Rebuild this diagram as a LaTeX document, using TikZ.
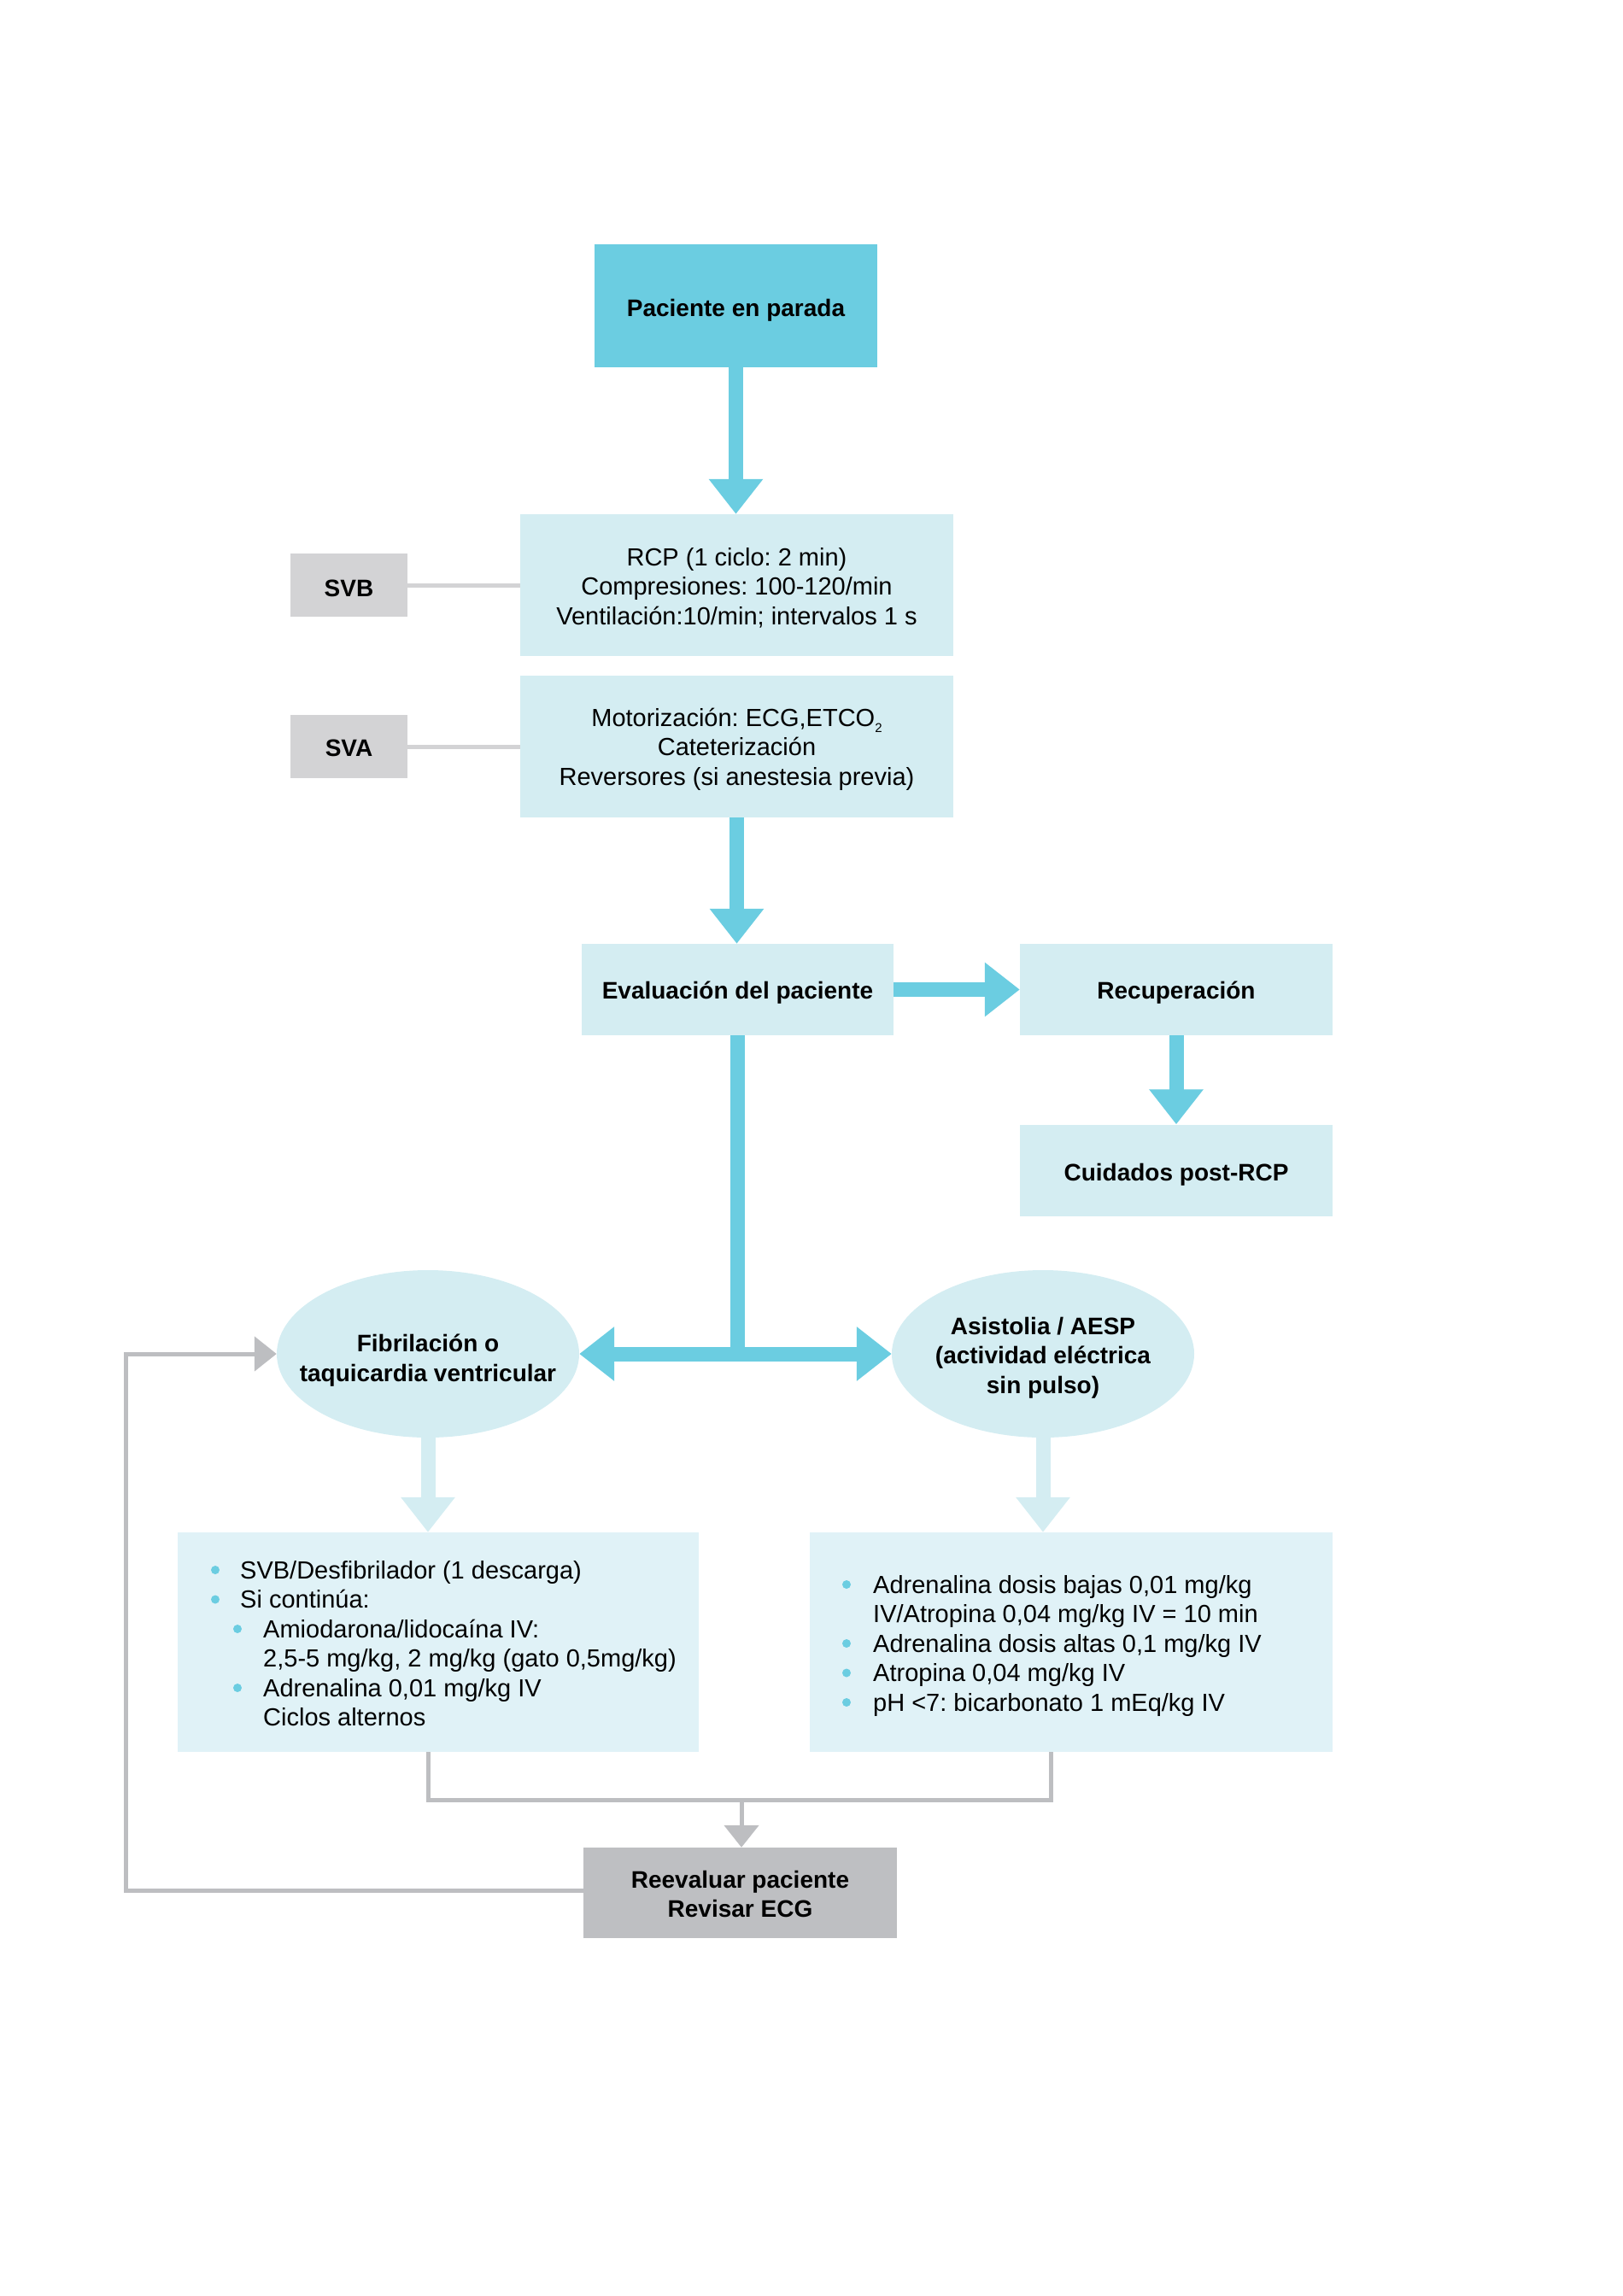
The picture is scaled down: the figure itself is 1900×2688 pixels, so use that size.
\documentclass[tikz,border=0pt]{standalone}
\usepackage{fontspec}
\setmainfont{Liberation Sans}
\usetikzlibrary{arrows.meta,shapes.geometric}
\definecolor{cy}{HTML}{6BCDE1}
\definecolor{lt}{HTML}{D4EDF2}
\definecolor{ltb}{HTML}{E0F2F7}
\definecolor{gbox}{HTML}{D3D3D5}
\definecolor{gdark}{HTML}{BEBFC2}
\definecolor{gline}{HTML}{BDBEC1}
\newcommand\mytab[1]{\begin{tabular}[t]{@{}c@{}}#1\end{tabular}}
\newcommand\mysub[1]{\raisebox{-7pt}{\fontsize{15}{15}\selectfont #1}}
\begin{document}
\frenchspacing
\begin{tikzpicture}[x=1pt,y=-1pt,
  every node/.style={font=\fontsize{29}{34.5}\selectfont, inner sep=0pt},
  bx/.style={rectangle},
  ttl/.style={font=\fontsize{28}{34.5}\selectfont\bfseries},
  ell/.style={ellipse, inner xsep=-60pt, inner ysep=0pt, minimum width=354pt, minimum height=196pt, fill=lt, ttl},
  bigarr/.style={draw=cy, line width=17pt, -{Triangle[length=41pt,width=61pt]}},
  ltarr/.style={draw=lt, line width=17pt, -{Triangle[length=41pt,width=61pt]}},
  gconn/.style={draw=gline, line width=5pt, line join=miter},
  garr/.style={gconn, -{Triangle[length=26pt,width=40pt]}},
  sconn/.style={draw=gbox, line width=5pt},
  ln/.style={anchor=base west},
  bul/.style={fill=cy}
]
\useasboundingbox (0,0) rectangle (1900,2688);

% boxes
\node[bx, ttl, fill=cy, minimum width=331pt, minimum height=144pt, text height=24pt, text depth=0pt] (top) at (861.5,358) {Paciente en parada};
\node[bx, fill=lt, minimum width=507pt, minimum height=166pt, text height=0pt, text depth=46pt] (rcp) at (862.5,685) {\mytab{RCP (1 ciclo: 2 min)\\Compresiones: 100-120/min\\Ventilación:10/min; intervalos 1 s}};
\node[bx, ttl, fill=gbox, minimum width=137pt, minimum height=74pt, text height=26pt, text depth=0pt] (svb) at (408.5,685) {SVB};
\node[bx, fill=lt, minimum width=507pt, minimum height=166pt, text height=0pt, text depth=48pt] (mot) at (862.5,874) {\mytab{Motorización: ECG,ETCO\mysub{2}\\Cateterización\\Reversores (si anestesia previa)}};
\node[bx, ttl, fill=gbox, minimum width=137pt, minimum height=74pt, text height=22pt, text depth=0pt] (sva) at (408.5,874) {SVA};
\node[bx, ttl, fill=lt, minimum width=365pt, minimum height=107pt, text height=21pt, text depth=0pt] (eval) at (863.5,1158.5) {Evaluación del paciente};
\node[bx, ttl, fill=lt, minimum width=366pt, minimum height=107pt, text height=21pt, text depth=0pt] (recup) at (1377,1158.5) {Recuperación};
\node[bx, ttl, fill=lt, minimum width=366pt, minimum height=107pt, text height=24pt, text depth=0pt] (cuid) at (1377,1370) {Cuidados post-RCP};
\node[ell, text height=0pt, text depth=5pt] (fib) at (501,1585) {\mytab{Fibrilación o\\taquicardia ventricular}};
\node[ell, text height=0pt, text depth=46pt] (asis) at (1221,1585) {\mytab{Asistolia / AESP\\(actividad eléctrica\\sin pulso)}};
\node[bx, fill=ltb, minimum width=610pt, minimum height=257pt] (lbox) at (513,1922.5) {};
\node[bx, fill=ltb, minimum width=612pt, minimum height=257pt] (rbox) at (1254,1922.5) {};
\node[bx, ttl, fill=gdark, minimum width=367pt, minimum height=106pt, text height=0pt, text depth=12pt] (reev) at (866.5,2216) {\mytab{Reevaluar paciente\\Revisar ECG}};

% left list
\fill[bul] (252,1838) circle (5pt);
\fill[bul] (252,1872.5) circle (5pt);
\fill[bul] (278,1907) circle (5pt);
\fill[bul] (278,1976) circle (5pt);
\node[ln] (l1) at (281,1848) {SVB/Desfibrilador (1 descarga)};
\node[ln] (l2) at (281,1882.5) {Si continúa:};
\node[ln] (l3) at (308,1917) {Amiodarona/lidocaína IV:};
\node[ln] (l4) at (308,1951.5) {2,5-5 mg/kg, 2 mg/kg (gato 0,5mg/kg)};
\node[ln] (l5) at (308,1986) {Adrenalina 0,01 mg/kg IV};
\node[ln] (l6) at (308,2020.5) {Ciclos alternos};

% right list
\fill[bul] (991,1855) circle (5pt);
\fill[bul] (991,1924) circle (5pt);
\fill[bul] (991,1958.5) circle (5pt);
\fill[bul] (991,1993) circle (5pt);
\node[ln] (r1) at (1022,1865) {Adrenalina dosis bajas 0,01 mg/kg};
\node[ln] (r2) at (1022,1899.5) {IV/Atropina 0,04 mg/kg IV = 10 min};
\node[ln] (r3) at (1022,1934) {Adrenalina dosis altas 0,1 mg/kg IV};
\node[ln] (r4) at (1022,1968.5) {Atropina 0,04 mg/kg IV};
\node[ln] (r5) at (1022,2003) {pH <7: bicarbonato 1 mEq/kg IV};

% connectors
\draw[sconn] (svb) -- (rcp);
\draw[sconn] (sva) -- (mot);
\draw[bigarr] (top.south) -- (top.south |- rcp.north);
\draw[bigarr] (mot.south) -- (mot.south |- eval.north);
\draw[bigarr] (eval) -- (recup);
\draw[bigarr] (recup) -- (cuid);
\draw[draw=cy, line width=17pt] (eval.south) -- (eval.south |- fib.center);
\draw[draw=cy, line width=17pt, {Triangle[length=41pt,width=61pt]}-{Triangle[length=41pt,width=61pt]}] (fib) -- (asis);
\draw[ltarr] (fib.south) -- (fib.south |- lbox.north);
\draw[ltarr] (asis.south) -- (asis.south |- rbox.north);

\coordinate (jl) at (501,2107);
\coordinate (jr) at (1230,2107);
\coordinate (jm) at (868,2107);
\draw[gconn] (lbox.south -| jl) -- (jl) -- (jr) -- (rbox.south -| jr);
\draw[garr] (jm) -- (jm |- reev.north);
\coordinate (fb1) at (147,2213);
\coordinate (fb2) at (147,1585);
\draw[garr] (reev.west |- fb1) -- (fb1) -- (fb2) -- (fib.west);
\end{tikzpicture}
\end{document}
